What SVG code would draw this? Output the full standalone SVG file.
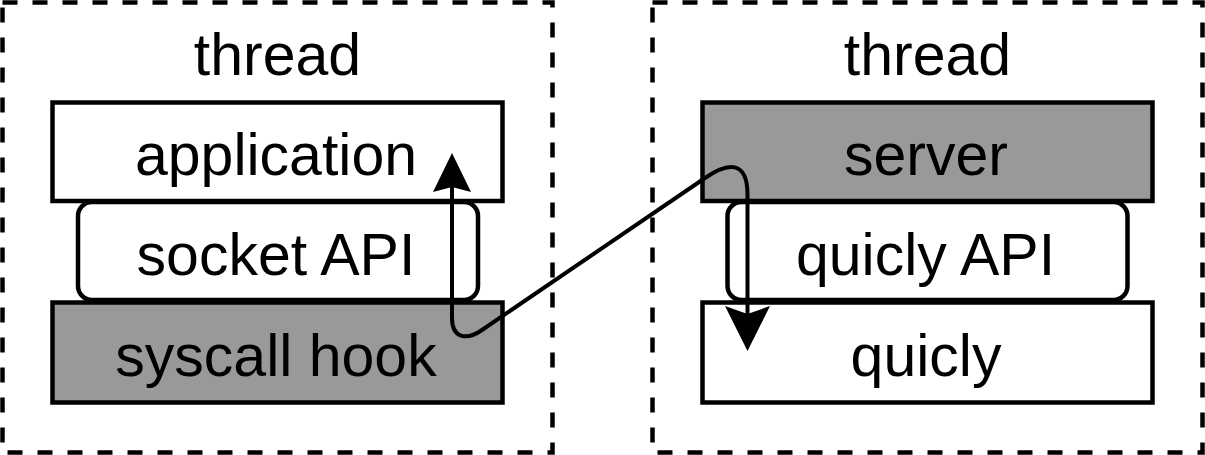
<svg xmlns="http://www.w3.org/2000/svg" width="1205" height="455" viewBox="0 0 1205 455">
  <style>
    .thread { fill: none; stroke: #000; stroke-width: 4.5; stroke-dasharray: 15 15; }
    .box { fill: #fff; stroke: #000; stroke-width: 4.5; }
    .gray { fill: #999999; }
    .lbl { font-family: "Liberation Sans", Arial, Helvetica, sans-serif; font-size: 59px; fill: #000; text-anchor: middle; }
    .conn { fill: none; stroke: #000; stroke-width: 4; stroke-linejoin: round; }
  </style>
  <defs>
    <marker id="arrSmall" markerUnits="userSpaceOnUse" markerWidth="40" markerHeight="40" refX="5" refY="0" orient="auto-start-reverse" overflow="visible">
      <path d="M0,-19 L39,0 L0,19 L5,0 Z" fill="#000"/>
    </marker>
    <marker id="arrBig" markerUnits="userSpaceOnUse" markerWidth="46" markerHeight="46" refX="8" refY="0" orient="auto" overflow="visible">
      <path d="M0,-22.5 L45,0 L0,22.5 L8,0 Z" fill="#000"/>
    </marker>
  </defs>

  <g id="thread-left">
    <rect class="thread" x="2.5" y="2.5" width="550" height="450"/>
    <text class="lbl" x="277.5" y="75">thread</text>
  </g>
  <g id="thread-right">
    <rect class="thread" x="652.5" y="2.5" width="550" height="450"/>
    <text class="lbl" x="927.5" y="75">thread</text>
  </g>

  <g id="socket-api">
    <rect class="box" x="78" y="202" width="400" height="98" rx="14" ry="14"/>
    <text class="lbl" x="276" y="274.5">socket API</text>
  </g>
  <g id="application">
    <rect class="box" x="52.5" y="102.5" width="450" height="98.5"/>
    <text class="lbl" x="276" y="175">application</text>
  </g>
  <g id="syscall-hook">
    <rect class="box gray" x="52.5" y="302.5" width="450" height="100"/>
    <text class="lbl" x="276" y="375.5">syscall hook</text>
  </g>

  <g id="quicly-api">
    <rect class="box" x="727.5" y="202" width="400" height="98" rx="14" ry="14"/>
    <text class="lbl" x="925.5" y="274.5">quicly API</text>
  </g>
  <g id="server">
    <rect class="box gray" x="702.5" y="102.5" width="450" height="98.5"/>
    <text class="lbl" x="926" y="175">server</text>
  </g>
  <g id="quicly">
    <rect class="box" x="702.5" y="302.5" width="450" height="100"/>
    <text class="lbl" x="926" y="375.5">quicly</text>
  </g>

  <g id="connectors">
    <path class="conn" d="M452,187 V318 C452,338 466,341 482,330 L705,178 C728,162 747.5,160 747.5,195 V314" marker-start="url(#arrSmall)" marker-end="url(#arrBig)"/>
  </g>
</svg>
